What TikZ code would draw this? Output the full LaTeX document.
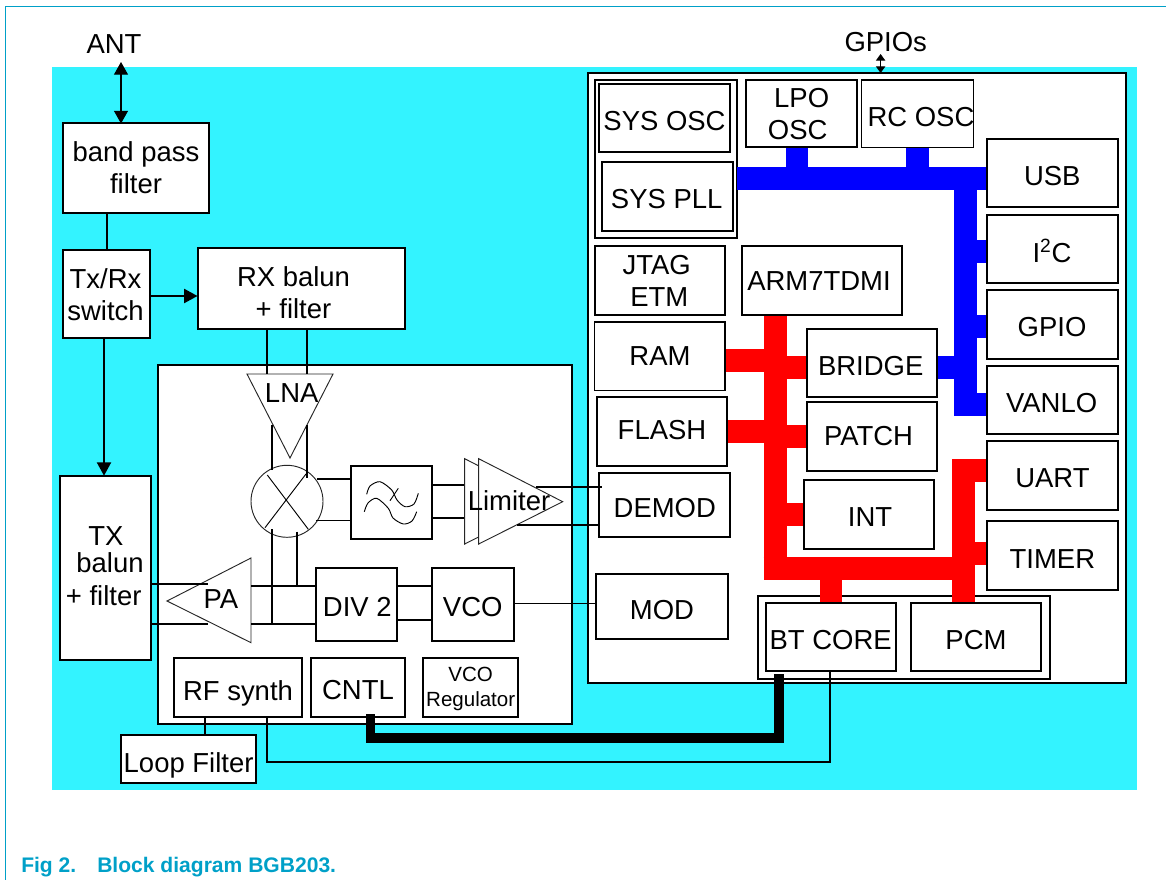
\documentclass[tikz,border=0pt]{standalone}
\usepackage{fontspec}
\setmainfont{Liberation Sans}
\usetikzlibrary{arrows.meta}
\definecolor{bgcyan}{RGB}{51,243,255}
\definecolor{frameteal}{RGB}{0,160,200}
\definecolor{busblue}{RGB}{0,0,255}
\definecolor{busred}{RGB}{255,0,0}
\newcommand{\shifted}[3]{\raisebox{\dimexpr #2pt-0.376em\relax}[0pt][0pt]{\makebox[0pt][c]{\hspace*{\dimexpr #1pt*2\relax}\begin{tabular}[c]{@{}c@{}}#3\end{tabular}}}}
% \bx[style]{name}{x1}{y1}{x2}{y2}{text x}{text y}{text}
\newcommand{\bx}[9][]{%
  \pgfmathsetmacro\dxx{(#7-(#3+#5)/2)*0.75}%
  \pgfmathsetmacro\dyy{((#4+#6)/2-#8)*0.75}%
  \node[boxn,#1,minimum width={(#5-#3)*0.75pt},minimum height={(#6-#4)*0.75pt}] (#2) at ({(#3+#5)/2},{(#4+#6)/2}) {\shifted{\dxx}{\dyy}{#9}};}
\newcommand{\lb}[4]{\node[lbl] (#1) at (#2,#3) {\shifted{0}{0}{#4}};}
\tikzset{
  x=0.75pt,y=-0.75pt,
  lbl/.style={inner sep=0pt,outer sep=0pt,font=\fontsize{20.6}{24}\selectfont,text=black},
  boxn/.style={lbl,draw=black,fill=white,line width=1.5pt,rectangle},
  thinbox/.style={line width=1pt},
  smalltxt/.style={font=\fontsize{15.4}{18.75}\selectfont},
  wire/.style={draw=black,line width=1.5pt},
  fine/.style={draw=black,line width=0.7pt},
  tri/.style={draw=black!85,fill=white,line width=0.7pt,line join=miter},
  arr/.style={wire,-{Triangle[length=10pt,width=10.5pt]}},
  dbl/.style={draw=black,line width=0.8pt,{Triangle[length=9.5pt,width=10.5pt]}-{Triangle[length=9.5pt,width=10.5pt]}},
  tiny/.style={draw=black,line width=0.8pt,{Triangle[length=5pt,width=7pt]}-{Triangle[length=5pt,width=7pt]}},
  bluebus/.style={draw=busblue,line width=17pt},
  redbus/.style={draw=busred,line width=17pt},
  blackbus/.style={draw=black,line width=7.2pt,line join=miter},
}
\begin{document}
\begin{tikzpicture}
\useasboundingbox (0,0) rectangle (1166,880);
\fill[bgcyan] (52,67) rectangle (1137,790);
\draw[frameteal,line width=0.9pt] (5.5,880) -- (5.5,6.5) -- (1166,6.5);
\node[anchor=base west,inner sep=0pt,font=\fontsize{15.8}{18}\selectfont\bfseries,text=frameteal] (figno) at (21,872) {Fig 2.};
\node[anchor=base west,inner sep=0pt,font=\fontsize{15.8}{18}\selectfont\bfseries,text=frameteal] (caption) at (97,872) {Block diagram BGB203.};

% container boxes
\node[boxn,minimum width={414*0.75pt},minimum height={359*0.75pt}] (rfblock) at (365,544.5) {};
\node[boxn,minimum width={538*0.75pt},minimum height={610*0.75pt}] (digital) at (856.5,378) {};
\node[boxn,minimum width={142.4*0.75pt},minimum height={158*0.75pt}] (sysouter) at (665.8,159) {};
\node[boxn,thinbox,minimum width={292*0.75pt},minimum height={83*0.75pt}] (btouter) at (904,637.5) {};

% external labels and arrows
\lb{ant}{114}{44}{ANT}
\lb{gpios}{885.7}{42}{GPIOs}
\bx{bpf}{62.5}{123.5}{209}{213}{136}{168}{band pass\\filter}
\bx{txrx}{62.5}{250.5}{149.5}{338}{105.5}{295}{Tx/Rx\\switch}
\bx{rxbal}{197.5}{248}{405}{329}{293.5}{292.5}{RX balun\\+ filter}
\bx{txbal}{60}{475.7}{151.3}{660}{106}{566}{TX\\[-4.3pt]\hspace*{6pt}balun\\[1.3pt]+ filter\hspace*{3.5pt}}
\draw[dbl] (121,62) -- (bpf.north -| 121,0);
\draw[tiny] (880.6,54) -- (digital.north -| 880.6,0);
\draw[wire] (bpf.south -| 107,0) -- (txrx.north -| 107,0);
\draw[arr] (txrx.east |- 0,296) -- (rxbal.west |- 0,296);
\draw[arr] (txrx.south -| 104,0) -- (txbal.north -| 104,0);

% LNA
\coordinate (lnaL) at (247,374);
\coordinate (lnaR) at (333,374);
\coordinate (lnaA) at (290,458);
\draw[tri] (lnaL) -- (lnaR) -- (lnaA) -- cycle;
\draw[wire] (rxbal.south -| 267,0) -- (267,374);
\draw[wire] (rxbal.south -| 307,0) -- (307,374);
\lb{lna}{291.7}{393}{LNA}

% mixer
\node[circle,tri,minimum size={72*0.75pt},inner sep=0pt,outer sep=0pt] (mixer) at (287,501.3) {};
\draw[fine] (267.3,475) -- (308.3,529.3);
\draw[fine] (306,474) -- (265,527.7);
\draw[wire] (272,425) -- (272,470);
\draw[wire] (307,425) -- (307,478);

% filter
\bx{lpf}{350.7}{466}{432.3}{539}{391}{502}{}
\draw[wire] (317.3,479.3) -- (lpf.west |- 0,479.3);
\draw[fine] (316,520.3) -- (lpf.west |- 0,520.3);
\draw[fine] plot[smooth] coordinates {(366.7,494.3) (370,486) (380,481.7) (391.7,490) (397,500) (405,506.7) (414,504) (418.3,493.3)};
\draw[fine] plot[smooth] coordinates {(364.3,511.7) (368,503) (376.7,498.3) (388.3,508.3) (393,518) (403.3,524) (412,521) (416.7,511.7)};
\draw[fine] (398.3,488.3) -- (390,500.7);

% limiter
\coordinate (limA) at (464.7,458.7);
\coordinate (limB) at (464.7,544);
\coordinate (limC) at (548.7,501.7);
\coordinate (limD) at (478.7,458.7);
\coordinate (limE) at (478.7,544);
\coordinate (limF) at (562.7,501.7);
\draw[wire] (lpf.east |- 0,485) -- (limA |- 0,485);
\draw[wire] (lpf.east |- 0,517.7) -- (limA |- 0,517.7);
\draw[tri] (limA) -- (limB) -- (limC) -- cycle;
\draw[tri] (limD) -- (limE) -- (limF) -- cycle;

% PA
\coordinate (paA) at (167,601);
\coordinate (paT) at (251,558);
\coordinate (paB) at (251,642.7);
\draw[tri] (paA) -- (paT) -- (paB) -- cycle;
\draw[wire] (txbal.east |- 0,584) -- (208,584);
\draw[wire] (txbal.east |- 0,623.7) -- (208,623.7);
\lb{pa}{221}{599}{PA}

% div, vco
\bx{div}{316}{567.7}{397}{641.3}{357.3}{606.7}{DIV 2}
\bx{vco}{431.7}{567.7}{514}{641.3}{472.7}{606.7}{VCO}
\draw[wire] (paT |- 0,586) -- (div.west |- 0,586);
\draw[wire] (paT |- 0,623.7) -- (div.west |- 0,623.7);
\draw[wire] (272,529.3) -- (272,623.7);
\draw[wire] (297,531.7) -- (297,586);
\draw[wire] (div.east |- 0,586) -- (vco.west |- 0,586);
\draw[wire] (div.east |- 0,619.7) -- (vco.west |- 0,619.7);

% bottom row of RF block
\bx{rfsyn}{174}{658}{302}{716.7}{238}{690.7}{RF synth}
\bx{cntl}{311}{658}{405.3}{716.7}{358}{690}{CNTL}
\bx[smalltxt]{vreg}{423}{658}{518.3}{716.7}{470.7}{686.5}{VCO\\Regulator}
\bx{loopf}{121}{735}{256.3}{782.7}{188.6}{762.3}{Loop Filter}
\draw[wire] (rfsyn.south -| 205,0) -- (loopf.north -| 205,0);

% buses
\coordinate (bluev) at (965.6,178.4);
\coordinate (redv) at (775.2,315);
\coordinate (redr) at (963.6,568.4);
\draw[bluebus] (sysouter.east |- bluev) -- (986.6,178.4);
\draw[bluebus] (797,147.3) -- (797,178.4);
\draw[bluebus] (917.5,147.3) -- (917.5,178.4);
\draw[bluebus] (965.6,167) -- (965.6,416);
\draw[bluebus] (965.6,251.3) -- (987,251.3);
\draw[bluebus] (965.6,326.3) -- (987,326.3);
\draw[bluebus] (965.6,404.7) -- (987,404.7);
\draw[bluebus] (937,367.8) -- (965.6,367.8);
\draw[redbus] (redv) -- (775.2,579.7);
\draw[redbus] (763.5,568.4) -- (975,568.4);
\draw[redbus] (724,360.5) -- (775.2,360.5);
\draw[redbus] (775.2,367.8) -- (807,367.8);
\draw[redbus] (726.5,431.3) -- (775.2,431.3);
\draw[redbus] (775.2,436.3) -- (807,436.3);
\draw[redbus] (775.2,514.3) -- (804,514.3);
\draw[redbus] (963.6,459) -- (963.6,603.3);
\draw[redbus] (952.2,470.3) -- (987.3,470.3);
\draw[redbus] (963.6,553.3) -- (987.3,553.3);
\draw[redbus] (831,568.4) -- (831,603.3);

% digital blocks
\bx{sysosc}{599.4}{84}{730}{152.3}{664.5}{121}{SYS OSC}
\bx{syspll}{602}{161.7}{732.5}{231}{666.7}{199}{SYS PLL}
\bx{lpo}{746}{80}{857}{147.3}{799}{114}{\hspace*{4pt}LPO\\OSC\hspace*{2pt}}
\bx[thinbox]{rcosc}{861.8}{80}{973.5}{147.3}{921}{117}{RC OSC}
\bx{usb}{986.6}{138.7}{1118}{207}{1052.3}{176}{USB}
\bx{i2c}{986.6}{215}{1118}{283}{1052}{251.7}{I\textsuperscript{2}C}
\bx{gpio}{986.6}{290}{1118}{358.7}{1052}{326.7}{GPIO}
\bx{vanlo}{986.6}{365.7}{1118}{434}{1051.6}{403}{VANLO}
\bx{jtag}{594.6}{246}{725}{315}{658.7}{280.5}{JTAG\hspace*{3pt}\\\hspace*{1pt}ETM}
\bx{arm}{741.8}{246}{902}{315}{819}{281}{ARM7TDMI}
\bx[thinbox]{ram}{594.6}{322}{725}{390.3}{660}{356}{RAM}
\bx{flash}{596.8}{397}{727}{466}{662}{429.5}{FLASH}
\bx{bridge}{806.8}{329}{937}{397}{870.7}{366}{BRIDGE}
\bx{patch}{806.8}{402}{937}{471}{868.5}{436}{PATCH}
\bx{int}{803.8}{480}{934}{549}{870}{516.7}{INT}
\bx{demod}{599.4}{472.7}{730}{537}{664.8}{507.7}{DEMOD}
\bx{mod}{596.4}{573.7}{727.6}{639.3}{662}{609.3}{MOD}
\bx{uart}{987.3}{441}{1118}{510}{1052.4}{477.7}{UART}
\bx{timer}{987.3}{520.7}{1118}{590}{1052.4}{558.7}{TIMER}
\bx{btcore}{765.7}{603.3}{896}{671}{830.7}{640}{BT CORE}
\bx{pcm}{910.7}{603.3}{1041}{671}{976}{640}{PCM}

% RF to digital links
\draw[wire] (536,487) -- (601.7,487);
\draw[wire] (517.3,524.7) -- (demod.west |- 0,524.7);
\draw[fine] (vco.east |- 0,603.3) -- (mod.west |- 0,603.3);
\lb{limiter}{509}{500.7}{Limiter}
\draw[wire] (rfsyn.south -| 267,0) -- (267,762) -- (829.6,762) -- (btcore.south -| 829.6,0);
\draw[blackbus] (370.3,714) -- (370.3,738) -- (779,738) -- (779,674);
\end{tikzpicture}
\end{document}
